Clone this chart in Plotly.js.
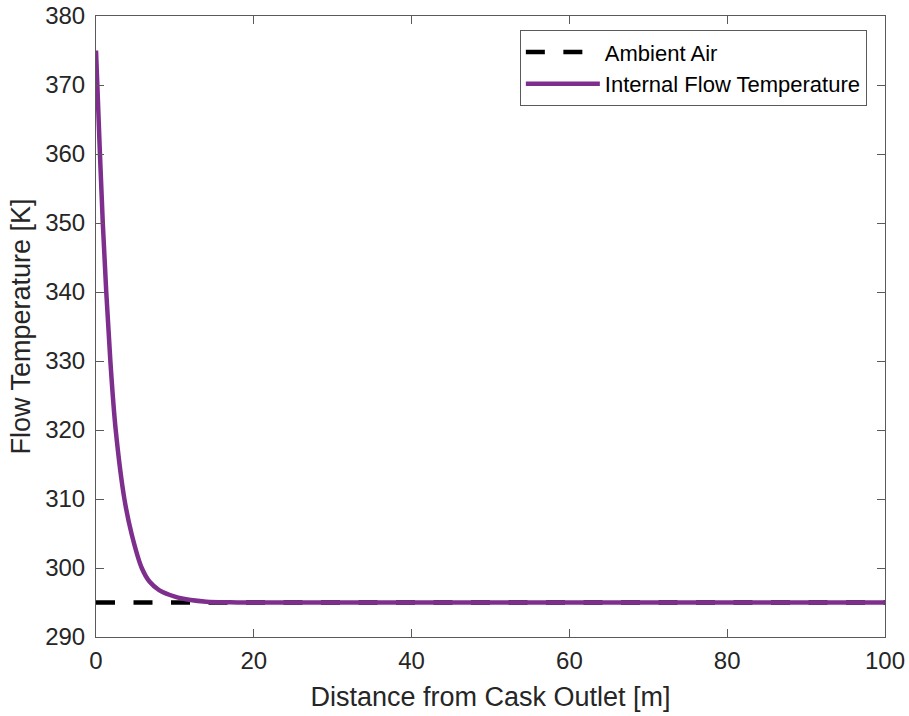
<!DOCTYPE html>
<html>
<head>
<meta charset="utf-8">
<script src="https://cdn.plot.ly/plotly-3.0.1.min.js"></script>
<style>html,body{margin:0;padding:0;background:#fff;}#chart{width:909px;height:716px;}</style>
</head>
<body>
<div id="chart"></div>
<script>
// Values
const ambientX = [0, 100];
const ambientT = [295, 295];

const flowX = [0, 0.17, 0.5, 0.86, 1.3, 1.82, 2.5, 3.6, 4.5, 5.8, 6.8, 8.0, 10, 12, 14, 17, 20, 40, 70, 100];
const flowT = [375, 370, 360, 350, 340, 330, 320, 310, 305, 300, 298, 296.8, 295.85, 295.35, 295.12, 295.03, 295, 295, 295, 295];

const xTicks = [0, 20, 40, 60, 80, 100];
const yTicks = [290, 300, 310, 320, 330, 340, 350, 360, 370, 380];

const textColor = '#262626';
const axisColor = '#5a5a5a';
const fontFam = 'Liberation Sans, Arial, Helvetica, sans-serif';

const traces = [
  {
    x: ambientX, y: ambientT, type: 'scatter', mode: 'lines',
    name: 'Ambient Air',
    line: {color: '#000000', width: 4.5, dash: '19px,18.5px'}
  },
  {
    x: flowX, y: flowT, type: 'scatter', mode: 'lines',
    name: 'Internal Flow Temperature',
    line: {color: '#7E2F8E', width: 4.5, shape: 'spline', smoothing: 1}
  }
];

const axisCommon = {
  showgrid: false, zeroline: false, showline: true, mirror: 'ticks',
  linecolor: axisColor, linewidth: 1,
  ticks: 'inside', ticklen: 8, tickwidth: 1, tickcolor: axisColor,
  tickfont: {family: fontFam, size: 24, color: textColor}
};

const layout = {
  width: 909, height: 716,
  margin: {l: 96, r: 24, t: 16, b: 79},
  paper_bgcolor: '#ffffff', plot_bgcolor: '#ffffff',
  font: {family: fontFam, color: textColor},
  showlegend: true,
  xaxis: Object.assign({}, axisCommon, {
    range: [0, 100], tickvals: xTicks, ticktext: xTicks.map(String),
    ticklabelstandoff: 2,
    title: {text: 'Distance from Cask Outlet [m]', font: {family: fontFam, size: 27, color: textColor}, standoff: 14}
  }),
  yaxis: Object.assign({}, axisCommon, {
    range: [290, 380], tickvals: yTicks, ticktext: yTicks.map(String),
    ticklabelstandoff: 5,
    title: {text: 'Flow Temperature [K]', font: {family: fontFam, size: 27, color: textColor}, standoff: 6}
  }),
  legend: {
    x: 0.977, xanchor: 'right', y: 0.977, yanchor: 'top',
    bgcolor: '#ffffff', bordercolor: axisColor, borderwidth: 1,
    font: {family: fontFam, size: 22, color: '#000000'},
    itemwidth: 74
  }
};

Plotly.newPlot('chart', traces, layout, {displayModeBar: false, staticPlot: true});
</script>
</body>
</html>
